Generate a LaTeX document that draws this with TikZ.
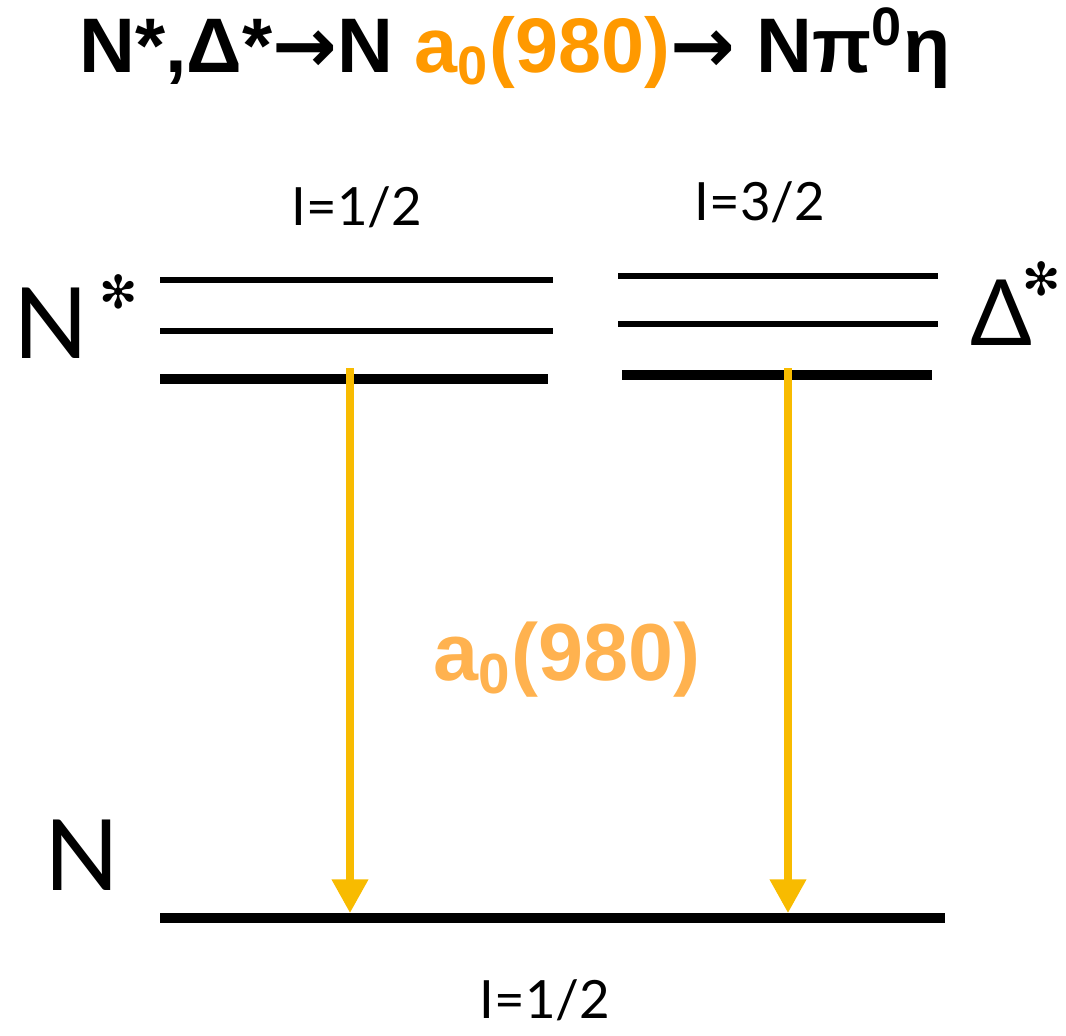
\documentclass[tikz,border=0pt]{standalone}
\usepackage{fontspec}
\usepackage{tikz}
\usetikzlibrary{arrows.meta}
\newfontfamily\titlefont{Liberation Sans}
\newfontfamily\labelfont{Lato}
\newfontfamily\symfont{DejaVu Sans}
\definecolor{titleorange}{HTML}{FF9900}
\definecolor{arroworange}{HTML}{F8BB00}
\definecolor{paleorange}{HTML}{FFB24F}
\newcommand\petalstar[1]{\raisebox{#1}{\symfont\fontsize{13}{13}\selectfont ✻}}
\newcommand\titlearrow{{\symfont\bfseries →}}
\tikzset{
  statelevel/.style={
    line width=1.45pt
  },
  lowlevel/.style={
    line width=3pt
  },
  decayarrow/.style={
    draw=arroworange,
    line width=2pt,
    -{Triangle[length=9.6pt,width=10pt]}
  },
  isolabel/.style={
    font=\labelfont\fontsize{15}{17}\selectfont,
    inner sep=0pt,
    anchor=base
  },
  statelabel/.style={
    font=\labelfont\fontsize{28}{32}\selectfont,
    inner sep=0pt,
    anchor=base west
  },
  titletext/.style={
    font=\titlefont\bfseries\fontsize{22}{26}\selectfont,
    inner sep=0pt,
    anchor=base
  },
  mesonlabel/.style={
    font=\titlefont\bfseries\fontsize{23}{27}\selectfont,
    text=paleorange,
    inner sep=0pt,
    anchor=base
  }
}

\begin{document}
\begin{tikzpicture}[x=0.01cm,y=-0.01cm]
  \useasboundingbox (0,0) rectangle (1066,1035);

  % title
  \node[titletext] (title) at (515,72)
    {N*,Δ*\titlearrow N \textcolor{titleorange}{a\textsubscript{0}(980)}\titlearrow\ Nπ\textsuperscript{0}η};

  % isospin labels
  \node[isolabel] (isoN) at (357,225) {I=1/2};
  \node[isolabel] (isoD) at (760,220) {I=3/2};
  \node[isolabel] (isoG) at (545,1018) {I=1/2};

  % state labels
  \node[statelabel] (nstar) at (13,358) {N\hspace{3pt}\petalstar{14pt}};
  \node[statelabel, font=\labelfont\fontsize{26}{30}\selectfont] (dstar) at (970,345)
    {Δ\hspace{-3pt}\petalstar{14pt}};
  \node[statelabel] (nucl) at (44,890) {N};

  % N* levels
  \coordinate (nA) at (160,280);
  \coordinate (nB) at (160,331);
  \coordinate (nC) at (160,379);
  \draw[statelevel] (nA) -- +(393,0);
  \draw[statelevel] (nB) -- +(393,0);
  \draw[lowlevel] (nC) -- +(388,0);

  % Delta* levels
  \coordinate (dA) at (618,276);
  \coordinate (dB) at (618,324);
  \coordinate (dC) at (622,375);
  \draw[statelevel] (dA) -- +(320,0);
  \draw[statelevel] (dB) -- +(320,0);
  \draw[lowlevel] (dC) -- +(310,0);

  % nucleon level
  \coordinate (gA) at (160,918);
  \draw[lowlevel] (gA) -- +(785,0);

  % decays
  \coordinate (nOut) at (350,368);
  \coordinate (nIn) at (350,913);
  \coordinate (dOut) at (788,368);
  \coordinate (dIn) at (788,913);
  \draw[decayarrow] (nOut) -- (nIn);
  \draw[decayarrow] (dOut) -- (dIn);

  \node[mesonlabel] (meson) at (567,680) {a\textsubscript{0}(980)};
\end{tikzpicture}
\end{document}
